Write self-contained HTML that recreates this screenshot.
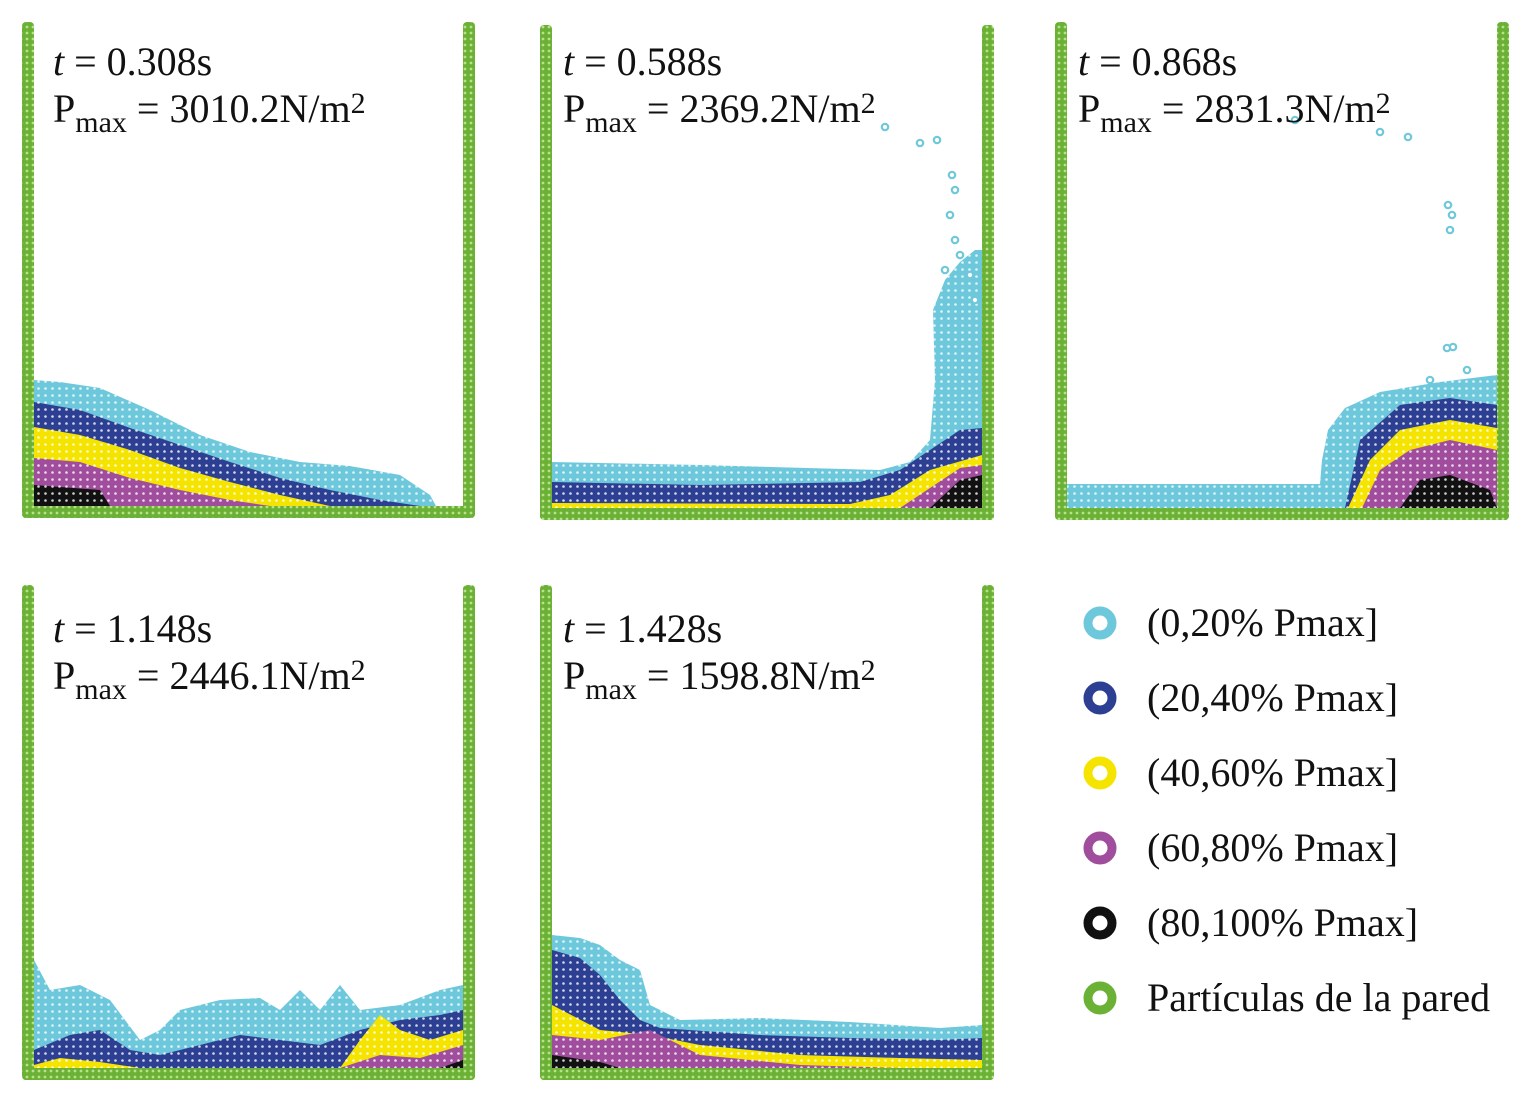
<!DOCTYPE html>
<html><head><meta charset="utf-8">
<style>
html,body{margin:0;padding:0;background:#fff;}
svg{display:block;}
text{font-family:"Liberation Serif",serif;fill:#111;}
</style></head>
<body>
<svg id="fig" width="1530" height="1101" viewBox="0 0 1530 1101" xmlns="http://www.w3.org/2000/svg">
<defs>
<pattern id="dots" width="7" height="7" patternUnits="userSpaceOnUse">
<circle cx="3.5" cy="3.5" r="1.3" fill="#fff" fill-opacity="0.8"/>
</pattern>
<pattern id="wallp" width="6" height="6" patternUnits="userSpaceOnUse">
<rect width="6" height="6" fill="#6bb135"/>
<circle cx="3" cy="3" r="1.4" fill="#b9e08f"/>
</pattern>
</defs>
<g id="panels"></g>
<g id="legend"></g>
</svg>
<script>
const NS="http://www.w3.org/2000/svg";
const colors=["#6ec8dc","#2c3f92","#f4e400","#a14d9d","#111111"];
const times=["0.308","0.588","0.868","1.148","1.428"];
const pmax=["3010.2","2369.2","2831.3","2446.1","1598.8"];
const legendLabels=["(0,20% Pmax]","(20,40% Pmax]","(40,60% Pmax]","(60,80% Pmax]","(80,100% Pmax]","Partículas de la pared"];
// panel boxes: [left wall x, right wall x, top y, floor y]
const boxes=[[22,463,22,506],[540,982,25,508],[1055,1497,22,508],[22,463,585,1068],[540,982,585,1068]];
const textX=[53,563,1078,53,563];
const layers1=[
 [[34,380],[60,382],[100,388],[150,410],[200,435],[250,452],[300,462],[350,466],[400,475],[430,495],[436,506]],
 [[34,402],[80,410],[130,428],[180,445],[230,462],[280,478],[330,490],[380,500],[420,506]],
 [[34,427],[80,435],[130,450],[180,468],[230,482],[280,495],[330,506]],
 [[34,458],[80,462],[130,478],[180,490],[230,500],[270,506]],
 [[34,485],[100,490],[110,506]]];
const layers2=[
 [[552,462],[700,465],[880,470],[910,462],[930,440],[935,380],[933,310],[945,280],[960,262],[975,250],[982,250]],
 [[552,482],[700,485],[860,482],[900,470],[930,450],[960,430],[982,428]],
 [[552,503],[850,504],[890,495],[930,470],[982,455]],
 [[900,508],[930,488],[960,468],[982,465]],
 [[930,508],[960,480],[982,475]]];
const layers3=[
 [[1067,484],[1320,484],[1322,460],[1328,430],[1345,408],[1380,392],[1440,382],[1497,375]],
 [[1345,508],[1360,440],[1400,405],[1450,398],[1497,405]],
 [[1348,508],[1370,460],[1400,430],[1450,420],[1497,428]],
 [[1362,508],[1380,470],[1410,450],[1450,440],[1497,450]],
 [[1400,508],[1420,480],[1450,475],[1490,490],[1497,508]]];
const layers4=[
 [[34,960],[50,990],[80,985],[110,1000],[140,1040],[160,1030],[180,1010],[220,1000],[260,998],[280,1010],[300,990],[320,1010],[340,985],[360,1010],[400,1005],[440,990],[463,985]],
 [[34,1050],[70,1035],[100,1030],[130,1050],[160,1055],[200,1045],[240,1035],[280,1040],[320,1045],[360,1030],[400,1020],[440,1015],[463,1010]],
 [[34,1065],[60,1058],[100,1062],[140,1068],[340,1068],[360,1040],[380,1015],[400,1030],[430,1040],[463,1030]],
 [[340,1068],[380,1055],[420,1058],[463,1045]],
 [[440,1068],[463,1060]]];
const layers5=[
 [[552,935],[580,938],[600,945],[620,960],[640,970],[650,1005],[680,1020],[760,1018],[850,1022],[940,1028],[982,1025]],
 [[552,950],[580,958],[600,975],[620,1000],[640,1020],[660,1028],[760,1035],[850,1038],[940,1040],[982,1038]],
 [[552,1005],[600,1030],[650,1035],[700,1045],[800,1055],[900,1058],[982,1060]],
 [[552,1035],[600,1040],[650,1030],[700,1055],[800,1065],[900,1068]],
 [[552,1055],[600,1062],[620,1068]]];
const allLayers=[layers1,layers2,layers3,layers4,layers5];
const dropsX=[885,920,937,952,955,950,955,960,945,970,975,1295,1380,1408,1448,1452,1450,1447,1453,1467,1430];
const dropsY=[127,143,140,175,190,215,240,255,270,275,300,120,132,137,205,215,230,348,347,370,380];
const dropsP=[1,1,1,1,1,1,1,1,1,1,1,2,2,2,2,2,2,2,2,2,2];

const panels=document.getElementById('panels');
function el(tag,attrs,parent){const e=document.createElementNS(NS,tag);for(const k in attrs)e.setAttribute(k,attrs[k]);parent.appendChild(e);return e;}

boxes.forEach((b,i)=>{
 const g=el('g',{},panels);
 
 
 const [lx,rx,ty,fy]=b;
 const L=allLayers[i];
 L.forEach((pts,k)=>{
  const first=pts[0],last=pts[pts.length-1];
  let d=pts.map(p=>p[0]+','+p[1]).join(' ');
  d+=' '+last[0]+','+fy+' '+first[0]+','+fy;
  const poly=el('polygon',{points:d,fill:colors[k]},g);
  
  
 });
 const p0=L[0];
 let d=p0.map(p=>p[0]+','+p[1]).join(' ')+' '+p0[p0.length-1][0]+','+fy+' '+p0[0][0]+','+fy;
 const tex=el('polygon',{points:d,fill:'url(#dots)'},g);
 
 
 dropsP.forEach((pi,j)=>{ if(pi===i){
  const c=el('circle',{cx:dropsX[j],cy:dropsY[j],r:3.2,fill:'#fff',stroke:colors[0],'stroke-width':2.2},g);
  
  
 }});
 const wl=el('rect',{x:lx,y:ty,width:12,height:fy-ty+12,fill:'url(#wallp)',rx:4},g);
 
 
 const wr=el('rect',{x:rx,y:ty,width:12,height:fy-ty+12,fill:'url(#wallp)',rx:4},g);
 
 
 const wb=el('rect',{x:lx,y:fy,width:rx-lx+12,height:12,fill:'url(#wallp)',rx:4},g);
 
 
 const tx=textX[i], ty1=(i<3?75:642);
 const t1=el('text',{x:tx,y:ty1,'font-size':40},g);
 
 
 t1.innerHTML='<tspan font-style="italic">t</tspan> = '+times[i]+'s';
 const t2=el('text',{x:tx,y:ty1+47,'font-size':40},g);
 
 
 t2.innerHTML='P<tspan font-size="30" dy="10">max</tspan><tspan dy="-10"> = '+pmax[i]+'N/m</tspan><tspan font-size="30" dy="-9">2</tspan>';
});

const lg=document.getElementById('legend');
const legCols=colors.concat(["#6bb135"]);
legendLabels.forEach((lab,i)=>{
 const y=623+i*75;
 const g=el('g',{},lg);
 
 
 el('circle',{cx:1100,cy:y,r:12,fill:'#fff',stroke:legCols[i],'stroke-width':9},g);
 const t=el('text',{x:1147,y:y+13,'font-size':40},g);
 t.textContent=lab;
});
</script>
</body></html>
